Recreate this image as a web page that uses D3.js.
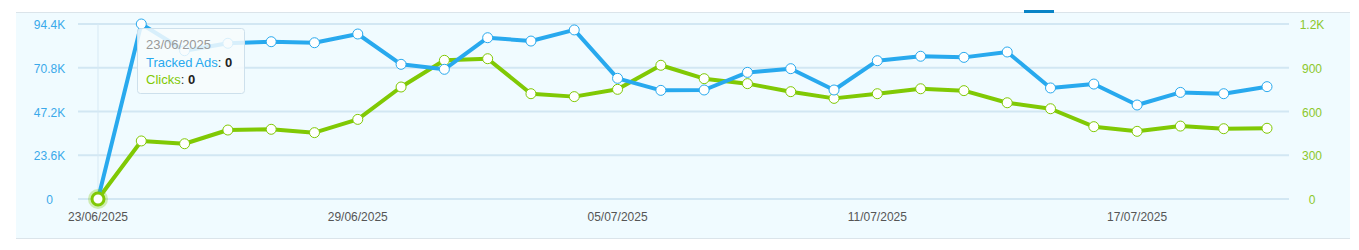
<!DOCTYPE html>
<html><head><meta charset="utf-8">
<script src="https://cdn.jsdelivr.net/npm/d3@7"></script>
<style>
html,body{margin:0;padding:0;background:#fff;}
svg{display:block;font-family:"Liberation Sans",Arial,sans-serif;}
</style></head>
<body><svg id="c" width="1359" height="250"></svg>
<script>
const dates = ["23/06/2025","24/06/2025","25/06/2025","26/06/2025","27/06/2025","28/06/2025","29/06/2025","30/06/2025","01/07/2025","02/07/2025","03/07/2025","04/07/2025","05/07/2025","06/07/2025","07/07/2025","08/07/2025","09/07/2025","10/07/2025","11/07/2025","12/07/2025","13/07/2025","14/07/2025","15/07/2025","16/07/2025","17/07/2025","18/07/2025","19/07/2025","20/07/2025"];
const trackedAds = [0,94400,80000,84000,84850,84300,89000,72650,69960,87000,85200,91200,65100,58600,58800,68300,70300,58800,74600,77000,76400,79300,59900,62000,50700,57500,56800,60600];
const clicks = [0,398,379,473,478,455,546,768,951,962,722,702,752,917,825,791,736,690,722,756,743,660,619,496,464,500,482,485];
const leftTicks = [0,23600,47200,70800,94400];
const leftTickLabels = ["0","23.6K","47.2K","70.8K","94.4K"];
const rightTicks = [0,300,600,900,1200];
const rightTickLabels = ["0","300","600","900","1.2K"];
const xTickIdx = [0,6,12,18,24];
const hoverIdx = 0;

const svg = d3.select("#c");
const blue = "#28a9ee", green = "#80c904";

const x = d3.scaleLinear().domain([0, dates.length-1]).range([98, 1267]);
const yL = d3.scaleLinear().domain([0, 94400]).range([199, 24]);
const yR = d3.scaleLinear().domain([0, 1200]).range([199, 24]);

// panel
svg.append("rect").attr("x",16).attr("y",12).attr("width",1334).attr("height",226).attr("fill","#f0fbff");
svg.append("line").attr("x1",16).attr("x2",1350).attr("y1",12.5).attr("y2",12.5).attr("stroke","#dbe4ea");
svg.append("line").attr("x1",16).attr("x2",1350).attr("y1",238.5).attr("y2",238.5).attr("stroke","#dbe4ea");
svg.append("rect").attr("x",1024).attr("y",10).attr("width",30).attr("height",3).attr("fill","#0a84c6");

// gridlines
svg.append("g").selectAll("line").data(leftTicks).join("line")
  .attr("x1",78).attr("x2",1289).attr("y1",d=>yL(d)).attr("y2",d=>yL(d))
  .attr("stroke","#d2e7f3").attr("stroke-width",2);

// crosshair
svg.append("line").attr("x1",x(hoverIdx)).attr("x2",x(hoverIdx)).attr("y1",24).attr("y2",199)
  .attr("stroke","#d7e9f4").attr("stroke-width",1);

// left axis labels
svg.append("g").selectAll("text").data(leftTicks).join("text")
  .attr("x",49.5).attr("y",d=>yL(d)+5).attr("text-anchor","middle")
  .attr("font-size",12).attr("fill","#3aa9ea").text((d,i)=>leftTickLabels[i]);
// right axis labels
svg.append("g").selectAll("text").data(rightTicks).join("text")
  .attr("x",1312).attr("y",d=>yR(d)+5).attr("text-anchor","middle")
  .attr("font-size",12).attr("fill","#8cc82c").text((d,i)=>rightTickLabels[i]);
// x labels
svg.append("g").selectAll("text").data(xTickIdx).join("text")
  .attr("x",d=>x(d)).attr("y",221).attr("text-anchor","middle")
  .attr("font-size",12).attr("fill","#555").text(d=>dates[d]);

// lines
const lineL = d3.line().x((d,i)=>x(i)).y(d=>yL(d));
const lineR = d3.line().x((d,i)=>x(i)).y(d=>yR(d));
svg.append("path").attr("d",lineR(clicks)).attr("fill","none").attr("stroke",green).attr("stroke-width",4).attr("stroke-linejoin","round");
svg.append("g").selectAll("circle").data(clicks).join("circle")
  .attr("cx",(d,i)=>x(i)).attr("cy",d=>yR(d)).attr("r",5).attr("fill","#fff").attr("stroke",green).attr("stroke-width",1);
svg.append("path").attr("d",lineL(trackedAds)).attr("fill","none").attr("stroke",blue).attr("stroke-width",4).attr("stroke-linejoin","round");
svg.append("g").selectAll("circle").data(trackedAds).join("circle")
  .attr("cx",(d,i)=>x(i)).attr("cy",d=>yL(d)).attr("r",5).attr("fill","#fff").attr("stroke",blue).attr("stroke-width",1);

// hover marker
svg.append("circle").attr("cx",x(hoverIdx)).attr("cy",yR(clicks[hoverIdx])).attr("r",10).attr("fill",green).attr("opacity",0.3);
svg.append("circle").attr("cx",x(hoverIdx)).attr("cy",yR(clicks[hoverIdx])).attr("r",6).attr("fill","#fff").attr("stroke",green).attr("stroke-width",3);

// tooltip
const tt = svg.append("g");
tt.append("rect").attr("x",137.5).attr("y",28.5).attr("width",107).attr("height",65).attr("rx",3)
  .attr("fill","rgba(247,251,253,0.85)").attr("stroke","#cde0ec");
tt.append("text").attr("x",146).attr("y",49).attr("font-size",13).attr("fill","#999").text(dates[hoverIdx]);
const t2 = tt.append("text").attr("x",146).attr("y",66.5).attr("font-size",13);
t2.append("tspan").attr("fill",blue).text("Tracked Ads");
t2.append("tspan").attr("fill","#333").text(": ");
t2.append("tspan").attr("fill","#222").attr("font-weight","bold").text(d3.format(",")(trackedAds[hoverIdx]));
const t3 = tt.append("text").attr("x",146).attr("y",83.5).attr("font-size",13);
t3.append("tspan").attr("fill",green).text("Clicks");
t3.append("tspan").attr("fill","#333").text(": ");
t3.append("tspan").attr("fill","#222").attr("font-weight","bold").text(d3.format(",")(clicks[hoverIdx]));
</script></body></html>
